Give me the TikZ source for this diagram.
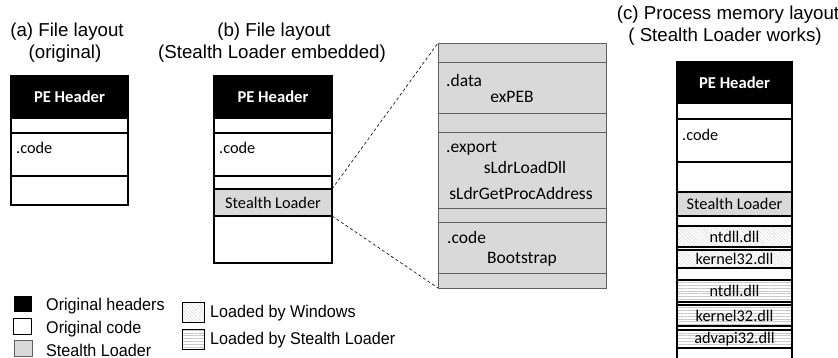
\documentclass[tikz,border=0pt]{standalone}
\usepackage{fontspec}
\setmainfont{Liberation Sans}
\newfontfamily\boxfont{Carlito}
\newfontfamily\legfont[FakeStretch=0.95]{Liberation Sans}
\usetikzlibrary{patterns.meta}

\definecolor{slgray}{RGB}{217,217,217}
\definecolor{edgegray}{RGB}{95,95,95}
\definecolor{hatchgray}{RGB}{200,200,200}

\tikzset{
  cell/.style 2 args={draw=black, line width=1.6pt, inner sep=0pt, outer sep=0pt,
    anchor=north west, minimum width=#1, minimum height=#2,
    font=\boxfont\fontsize{16.3}{18}\selectfont},
  header/.style={fill=black, text=white, font=\boxfont\bfseries\fontsize{16.6}{18}\selectfont},
  loader/.style={fill=slgray},
  bigcell/.style 2 args={draw=edgegray, line width=0.8pt, fill=slgray, inner sep=0pt,
    outer sep=0pt, anchor=north west, minimum width=#1, minimum height=#2},
  bigtext/.style={font=\boxfont\fontsize{17.5}{20}\selectfont, inner sep=0pt},
  celltext/.style={font=\boxfont\fontsize{16.3}{18}\selectfont, inner sep=0pt},
  bywin/.style={pattern={Lines[angle=-45,distance=2.4pt,line width=0.3pt]}, pattern color=hatchgray},
  byldr/.style={pattern={Lines[angle=0,distance=2.8pt,line width=0.3pt]}, pattern color=hatchgray},
  title/.style={font=\fontsize{18.7}{22}\selectfont, inner sep=0pt},
  legtext/.style={font=\legfont\fontsize{17}{19}\selectfont, inner sep=0pt, anchor=west},
  zoomline/.style={dashed, dash pattern=on 3pt off 2.5pt, line width=0.6pt},
}

\begin{document}
\begin{tikzpicture}[x=1pt, y=-1pt]
\useasboundingbox (0,0) rectangle (838,358);

% ---- titles ----
\node[title] (ta1) at (67,32) {(a) File layout};
\node[title] (ta2) at (65,54) {(original)};
\node[title] (tb1) at (274,32) {(b) File layout};
\node[title] (tb2) at (272,54) {(Stealth Loader embedded)};
\node[title] (tc1) at (728,15) {(c) Process memory layout};
\node[title] (tc2) at (725,37) {( Stealth Loader works)};

% ---- (a) original file ----
\node[cell={117pt}{42pt}, header] (ahdr) at (11,76) {PE Header};
\node[cell={117pt}{15pt}] (ablank1) at (11,118) {};
\node[cell={117pt}{43pt}] (acode) at (11,133) {};
\node[cell={117pt}{29pt}] (ablank2) at (11,176) {};
\node[celltext, anchor=west] (acodet) at (16,148) {.code};

% ---- (b) file with the loader embedded ----
\node[cell={118pt}{42pt}, header] (bhdr) at (214,76) {PE Header};
\node[cell={118pt}{15pt}] (bblank1) at (214,118) {};
\node[cell={118pt}{43pt}] (bcode) at (214,133) {};
\node[cell={118pt}{13pt}] (bblank2) at (214,176) {};
\node[cell={118pt}{27pt}, loader] (bsl) at (214,189) {Stealth Loader};
\node[cell={118pt}{47pt}] (bblank3) at (214,216) {};
\node[celltext, anchor=west] (bcodet) at (219,148) {.code};

% ---- detail of the embedded loader ----
\node[bigcell={168pt}{19pt}] (gtop) at (438,43) {};
\node[bigcell={168pt}{51pt}] (gdata) at (438,62) {};
\node[bigcell={168pt}{19pt}] (gpad1) at (438,113) {};
\node[bigcell={168pt}{76pt}] (gexport) at (438,132) {};
\node[bigcell={168pt}{14pt}] (gpad2) at (438,208) {};
\node[bigcell={168pt}{51pt}] (gcode) at (438,222) {};
\node[bigcell={168pt}{15pt}] (gbot) at (438,273) {};

\node[bigtext, anchor=west] (tdata) at (446,80) {.data};
\node[bigtext] (tpeb) at (512,97) {exPEB};
\node[bigtext, anchor=west] (texport) at (446,148) {.export};
\node[bigtext] (tload) at (525,167) {sLdrLoadDll};
\node[bigtext] (tproc) at (521,193) {sLdrGetProcAddress};
\node[bigtext, anchor=west] (tcode) at (447,237) {.code};
\node[bigtext] (tboot) at (522,259) {Bootstrap};

\draw[zoomline] (bsl.north east) -- (gtop.north west);
\draw[zoomline] (bsl.south east) -- (gbot.south west);

% ---- (c) process memory ----
\node[cell={115pt}{41pt}, header] (chdr) at (677,62) {PE Header};
\node[cell={115pt}{16pt}] (cblank1) at (677,103) {};
\node[cell={115pt}{43pt}] (ccode) at (677,119) {};
\node[cell={115pt}{30pt}] (cblank2) at (677,162) {};
\node[cell={115pt}{24pt}, loader] (csl) at (677,192) {Stealth Loader};
\node[celltext, anchor=west] (ccodet) at (682,135) {.code};
\coordinate (cl) at (677,358);
\coordinate (cr) at (792,358);
\draw[line width=1.6pt] (csl.south west) -- (cl);
\draw[line width=1.6pt] (csl.south east) -- (cr);
\node[cell={115pt}{21pt}, bywin] (w1) at (677,226) {ntdll.dll};
\node[cell={115pt}{18pt}, bywin] (w2) at (677,250) {kernel32.dll};
\node[cell={115pt}{22pt}, byldr] (s1) at (677,280) {ntdll.dll};
\node[cell={115pt}{21pt}, byldr] (s2) at (677,305) {kernel32.dll};
\node[cell={115pt}{18pt}, byldr] (s3) at (677,330) {advapi32.dll};

% ---- legend ----
\node[fill=black, inner sep=0pt, minimum width=18pt, minimum height=16pt, anchor=north west] (k1) at (14,296) {};
\node[draw=black, line width=1.6pt, fill=white, inner sep=0pt, minimum width=18pt, minimum height=16pt, anchor=north west] (k2) at (12.5,317.5) {};
\node[draw=edgegray, line width=1.6pt, fill=slgray, inner sep=0pt, minimum width=18pt, minimum height=16pt, anchor=north west] (k3) at (13.5,339.5) {};
\node[legtext] (l1) at (46,306) {Original headers};
\node[legtext] (l2) at (46,329) {Original code};
\node[legtext] (l3) at (46,350) {Stealth Loader};

\node[draw=black, line width=1.6pt, bywin, inner sep=0pt, minimum width=22pt, minimum height=20pt, anchor=north west] (k4) at (181.5,301.5) {};
\node[draw=black, line width=1.6pt, byldr, inner sep=0pt, minimum width=22pt, minimum height=20pt, anchor=north west] (k5) at (181.5,328.5) {};
\node[legtext] (l4) at (210,313) {Loaded by Windows};
\node[legtext] (l5) at (210,340) {Loaded by Stealth Loader};
\end{tikzpicture}
\end{document}
